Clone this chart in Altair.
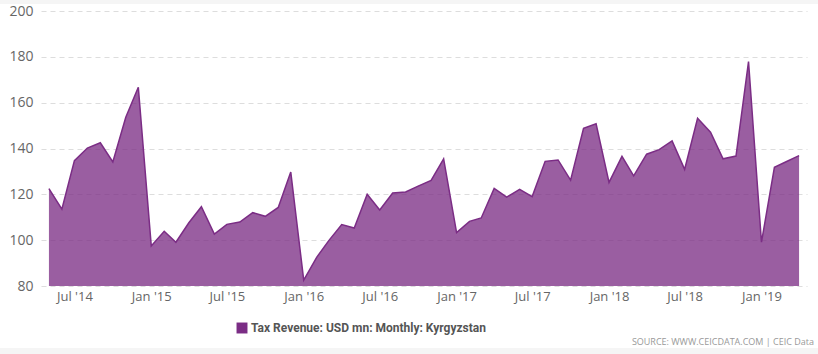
import altair as alt
import pandas as pd

months = pd.date_range("2014-05-01", "2019-04-01", freq="MS").strftime("%Y-%m-%d").tolist()
values = [
    122.5, 113.5, 134.7, 140.2, 142.5, 134.1, 153.6, 166.7,
    97.5, 103.9, 99.1, 107.6, 114.6, 102.7, 106.9, 107.9, 112.0, 110.4, 114.3, 129.7,
    82.6, 92.5, 99.8, 106.8, 105.3, 120.0, 113.2, 120.6, 121.0, 123.6, 126.1, 135.5,
    103.3, 108.2, 109.7, 122.6, 118.8, 122.2, 119.0, 134.4, 135.0, 126.2, 148.8, 150.8,
    125.2, 136.6, 128.1, 137.5, 139.5, 143.3, 130.9, 153.2, 147.1, 135.5, 136.7, 177.9,
    99.1, 131.8, 134.2, 136.9,
]
series_name = "Tax Revenue: USD mn: Monthly: Kyrgyzstan"
y_ticks = [80, 100, 120, 140, 160, 180, 200]
x_tick_dates = [(y, m) for y in range(2014, 2020) for m in (1, 7)]
x_tick_dates = [d for d in x_tick_dates if (2014, 7) <= d <= (2019, 1)]

df = pd.DataFrame({"date": months, "value": values, "series": series_name})

LINE = "#7b2d85"

area = alt.Chart(df).mark_area(
    line={"strokeWidth": 1.5}, fillOpacity=0.77, clip=True
).encode(
    x=alt.X(
        "date:T",
        scale=alt.Scale(
            type="utc",
            domain=[alt.DateTime(year=2014, month=4, date=12, utc=True),
                    alt.DateTime(year=2019, month=4, date=20, utc=True)],
            nice=False,
        ),
        axis=alt.Axis(
            title=None,
            values=[alt.DateTime(year=y, month=m, date=1, utc=True) for y, m in x_tick_dates],
            labelExpr="utcFormat(datum.value, \"%b '%y\")",
            grid=False,
            ticks=False,
            domain=False,
            labelFontSize=13,
            labelColor="#666666",
            labelFont="Open Sans",
            labelPadding=4,
        ),
    ),
    y=alt.Y(
        "value:Q",
        scale=alt.Scale(domain=[80, 200], nice=False, zero=False),
        axis=alt.Axis(
            title=None,
            values=y_ticks,
            grid=True,
            gridDash=[5, 4],
            gridColor="#dddddd",
            gridWidth=1,
            ticks=False,
            domain=False,
            labelFontSize=14,
            labelColor="#666666",
            labelFont="Open Sans",
            labelPadding=8,
        ),
    ),
    color=alt.Color(
        "series:N",
        scale=alt.Scale(range=[LINE]),
        legend=alt.Legend(
            title=None,
            orient="none",
            legendX=195,
            legendY=311,
            symbolType="square",
            symbolSize=120,
            symbolOpacity=1,
            symbolStrokeWidth=0,
            labelFontSize=12,
            labelFontWeight="bold",
            labelColor="#555555",
            labelFont="Roboto",
            labelLimit=0,
            padding=0,
            labelOffset=3,
        ),
    ),
)

one = pd.DataFrame({"a": [0]})

bottom = alt.Chart(one).mark_rect(color="#f5f5f5").encode(
    x=alt.value(-41), x2=alt.value(777), y=alt.value(337), y2=alt.value(343)
)
top = alt.Chart(one).mark_rect(color="#f5f5f5").encode(
    x=alt.value(-41), x2=alt.value(777), y=alt.value(-11), y2=alt.value(-7)
)
source = alt.Chart(one).mark_text(
    align="right", baseline="alphabetic", fontSize=9, color="#999999", font="Open Sans"
).encode(
    x=alt.value(773), y=alt.value(334),
    text=alt.value("SOURCE: WWW.CEICDATA.COM | CEIC Data"),
)

chart = alt.layer(area, bottom, top, source).properties(
    width=766,
    height=275,
    autosize=alt.AutoSizeParams(type="none"),
    padding={"left": 41, "top": 11, "right": 11, "bottom": 68},
    background="white",
).configure_view(stroke=None)

chart.save("out.html", embed_options={"renderer": "svg", "actions": False})
